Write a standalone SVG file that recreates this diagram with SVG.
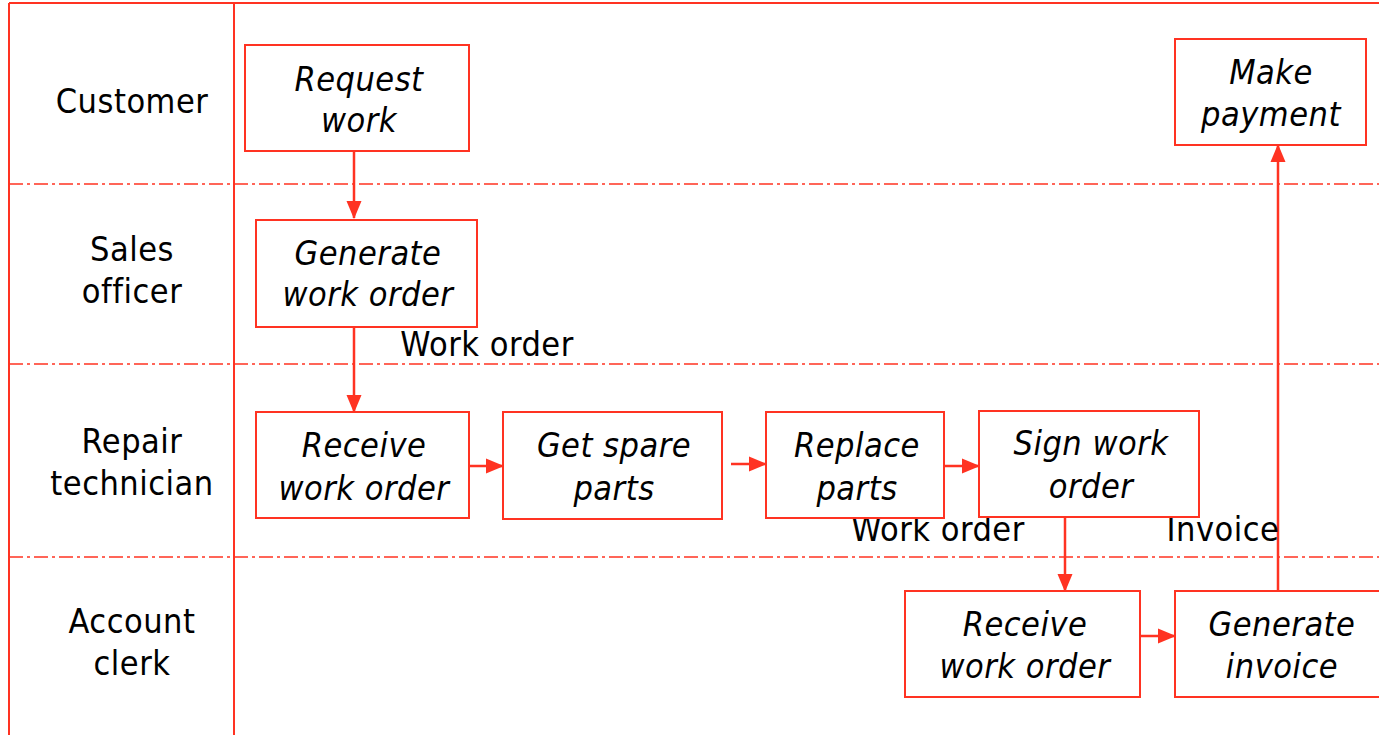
<svg xmlns="http://www.w3.org/2000/svg" width="1379" height="735" viewBox="0 0 1379 735">
<defs>
<style>
.frame{stroke:#ff3322;stroke-width:2;fill:none}
.lane{stroke:#ff3322;stroke-width:1.5;fill:none;stroke-dasharray:14 4 3 4}
.box{stroke:#ff3322;stroke-width:2;fill:#ffffff}
.conn{stroke:#ff3322;stroke-width:2.5;fill:none}
.t{font-family:"DejaVu Sans Condensed","DejaVu Sans","Liberation Sans",sans-serif;font-size:34px;letter-spacing:0.5px;fill:#000;text-anchor:middle}
.i{font-style:italic}
</style>
<marker id="ah" markerUnits="userSpaceOnUse" markerWidth="18" markerHeight="18" viewBox="0 0 18 18" refX="17" refY="9" orient="auto">
<path d="M0,1.5 L18,9 L0,16.5 Z" fill="#ff3322"/>
</marker>
</defs>
<rect width="1379" height="735" fill="#ffffff"/>
<g id="frame">
<line class="frame" x1="9" y1="3" x2="1379" y2="3"/>
<line class="frame" x1="9" y1="3" x2="9" y2="735"/>
<line class="frame" x1="234" y1="3" x2="234" y2="735"/>
<line class="lane" x1="9" y1="184" x2="1379" y2="184"/>
<line class="lane" x1="9" y1="364" x2="1379" y2="364"/>
<line class="lane" x1="9" y1="557" x2="1379" y2="557"/>
</g>
<g id="lanes">
<text class="t" x="132" y="113">Customer</text>
<text class="t" x="132" y="261">Sales</text>
<text class="t" x="132" y="303">officer</text>
<text class="t" x="132" y="453">Repair</text>
<text class="t" x="132" y="495">technician</text>
<text class="t" x="132" y="633">Account</text>
<text class="t" x="132" y="675">clerk</text>
</g>
<g id="connectors">
<line class="conn" x1="354" y1="151" x2="354" y2="218" marker-end="url(#ah)"/>
<line class="conn" x1="354" y1="327" x2="354" y2="412" marker-end="url(#ah)"/>
<line class="conn" x1="469" y1="466" x2="503" y2="466" marker-end="url(#ah)"/>
<line class="conn" x1="731" y1="464" x2="766" y2="464" marker-end="url(#ah)"/>
<line class="conn" x1="944" y1="466" x2="979" y2="466" marker-end="url(#ah)"/>
<line class="conn" x1="1065" y1="512" x2="1065" y2="591" marker-end="url(#ah)"/>
<line class="conn" x1="1140" y1="636" x2="1175" y2="636" marker-end="url(#ah)"/>
<line class="conn" x1="1278" y1="591" x2="1278" y2="145" marker-end="url(#ah)"/>
<text class="t" x="487" y="356">Work order</text>
<text class="t" x="938" y="541">Work order</text>
<text class="t" x="1223" y="541">Invoice</text>
</g>
<g id="request-work">
<rect class="box" x="245" y="45" width="224" height="106"/>
<text class="t i" x="359" y="91">Request</text>
<text class="t i" x="359" y="132">work</text>
</g>
<g id="generate-work-order">
<rect class="box" x="256" y="220" width="221" height="107"/>
<text class="t i" x="368" y="265">Generate</text>
<text class="t i" x="368" y="306">work order</text>
</g>
<g id="receive-work-order-tech">
<rect class="box" x="256" y="412" width="213" height="106"/>
<text class="t i" x="364" y="457">Receive</text>
<text class="t i" x="364" y="500">work order</text>
</g>
<g id="get-spare-parts">
<rect class="box" x="503" y="412" width="219" height="107"/>
<text class="t i" x="614" y="457">Get spare</text>
<text class="t i" x="614" y="500">parts</text>
</g>
<g id="replace-parts">
<rect class="box" x="766" y="412" width="178" height="106"/>
<text class="t i" x="857" y="457">Replace</text>
<text class="t i" x="857" y="500">parts</text>
</g>
<g id="sign-work-order">
<rect class="box" x="979" y="411" width="220" height="106"/>
<text class="t i" x="1091" y="455">Sign work</text>
<text class="t i" x="1091" y="498">order</text>
</g>
<g id="receive-work-order-clerk">
<rect class="box" x="905" y="591" width="235" height="106"/>
<text class="t i" x="1025" y="636">Receive</text>
<text class="t i" x="1025" y="678">work order</text>
</g>
<g id="generate-invoice">
<rect class="box" x="1175" y="591" width="210" height="106"/>
<text class="t i" x="1282" y="636">Generate</text>
<text class="t i" x="1282" y="678">invoice</text>
</g>
<g id="make-payment">
<rect class="box" x="1175" y="39" width="191" height="106"/>
<text class="t i" x="1271" y="84">Make</text>
<text class="t i" x="1271" y="126">payment</text>
</g>
</svg>
